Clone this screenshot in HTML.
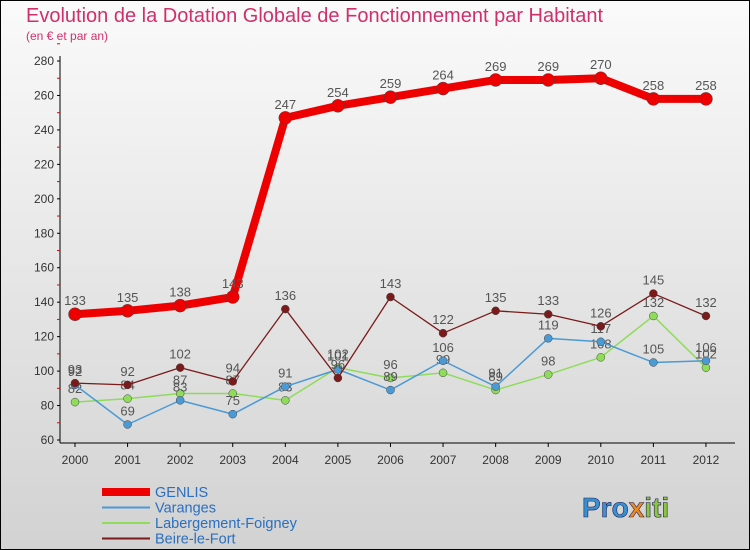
<!DOCTYPE html>
<html><head><meta charset="utf-8"><style>
body{margin:0;width:750px;height:550px;overflow:hidden;font-family:"Liberation Sans",sans-serif}
svg{display:block}
</style></head><body>
<svg id="c" width="750" height="550">
<defs><linearGradient id="bg" x1="0" y1="0" x2="0" y2="1"><stop offset="0" stop-color="#fafafa"/><stop offset="1" stop-color="#d2d2d2"/></linearGradient></defs>
<rect x="0.5" y="0.5" width="749" height="549" fill="url(#bg)" stroke="#000" stroke-width="1"/>
<text x="26" y="22" font-size="20" fill="#d0306a">Evolution de la Dotation Globale de Fonctionnement par Habitant</text>
<text x="26" y="40" font-size="12" fill="#d0306a">(en € et par an)</text>
<g id="axes"></g><g id="series"></g><g id="legend"></g>
<text x="582" y="517" font-size="28" font-weight="bold" fill="#3a8fd0" stroke="#225" stroke-width="0.6">Pro<tspan fill="#f08a1c">x</tspan><tspan fill="#8cc63f">iti</tspan></text>
</svg>
<script>
const years=[2000,2001,2002,2003,2004,2005,2006,2007,2008,2009,2010,2011,2012];
const yTicks=[60,80,100,120,140,160,180,200,220,240,260,280];
const genlis=[133,135,138,143,247,254,259,264,269,269,270,258,258];
const varanges=[92,69,83,75,91,101,89,106,91,119,117,105,106];
const labergement=[82,84,87,87,83,102,96,99,89,98,108,132,102];
const beire=[93,92,102,94,136,96,143,122,135,133,126,145,132];
const NS="http://www.w3.org/2000/svg";
const x=i=>75+i*52.58;
const y=v=>440-(v-60)*1.7227;
function mk(t,a,p){const e=document.createElementNS(NS,t);for(const k in a)e.setAttribute(k,a[k]);p.appendChild(e);return e;}
const ax=document.getElementById('axes');
let l=mk('line',{x1:60,y1:56,x2:60,y2:443,stroke:'#000'},ax);


l=mk('line',{x1:60,y1:443,x2:735,y2:443,stroke:'#000'},ax);


yTicks.forEach(v=>{
 mk('line',{x1:57,y1:y(v),x2:60,y2:y(v),stroke:'#000'},ax);
 mk('line',{x1:57,y1:y(v+10),x2:60,y2:y(v+10),stroke:'#e00'},ax);
 const t=mk('text',{x:54,y:y(v)+4,'font-size':12,'text-anchor':'end',fill:'#333'},ax);t.textContent=v;
 
 
});
years.forEach((yr,i)=>{
 mk('line',{x1:x(i),y1:443,x2:x(i),y2:447,stroke:'#000'},ax);
 const t=mk('text',{x:x(i),y:464,'font-size':12,'text-anchor':'middle',fill:'#333'},ax);t.textContent=yr;
 
 
});
const sg=document.getElementById('series');
function draw(vals,color,w,r,name){
 const g=mk('g',{},sg);
 
 
 const p=mk('polyline',{points:vals.map((v,i)=>x(i)+','+y(v)).join(' '),fill:'none',stroke:color,'stroke-width':w,'stroke-linejoin':'round'},g);
 
 
 vals.forEach((v,i)=>{
  const c=mk('circle',{cx:x(i),cy:y(v),r:r,fill:color,stroke:'#444','stroke-width':0.5},g);
  
  
  const t=mk('text',{x:x(i),y:y(v)-9,'font-size':13,'text-anchor':'middle',fill:'#555'},g);t.textContent=v;
  
  
 });
}
draw(labergement,'#8edc5a',1.5,4,'labergement');
draw(varanges,'#4a9ad6',1.5,4,'varanges');
draw(beire,'#7a1a1a',1.3,4,'beire');
draw(genlis,'#ee0000',8,6.5,'genlis');
const lg=document.getElementById('legend');
[['GENLIS','#ee0000',8],['Varanges','#4a9ad6',2],['Labergement-Foigney','#8edc5a',2],['Beire-le-Fort','#7a1a1a',2]].forEach((d,i)=>{
 const yy=492+i*15.5;
 const li=mk('line',{x1:102,y1:yy,x2:150,y2:yy,stroke:d[1],'stroke-width':d[2]},lg);
 
 
 const t=mk('text',{x:155,y:yy+5,'font-size':14.5,fill:'#2a6fc0'},lg);t.textContent=d[0];
 
 
});
</script>
</body></html>
